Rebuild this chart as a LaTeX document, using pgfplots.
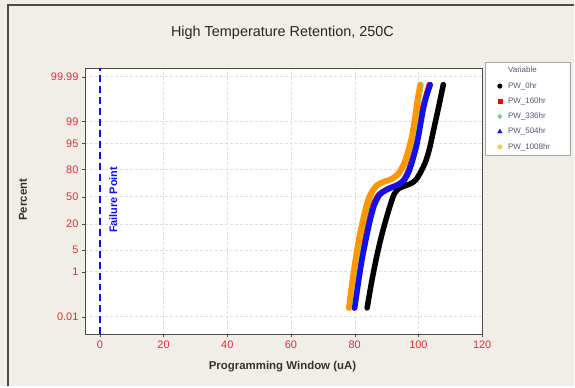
\documentclass[border=0pt]{standalone}
\usepackage{pgfplots}
\pgfplotsset{compat=1.18}
\usepackage{fontspec}
\setmainfont{Liberation Sans}
\definecolor{bgc}{RGB}{241,238,232}
\definecolor{tickred}{RGB}{225,45,55}
\definecolor{orng}{RGB}{255,150,0}
\definecolor{blu}{RGB}{15,15,240}
\definecolor{legtxt}{RGB}{85,85,115}
\definecolor{grn}{RGB}{130,200,130}
\definecolor{ylw}{RGB}{235,215,70}
\begin{document}
\begin{tikzpicture}[x=1bp,y=1bp]
\fill[bgc] (0,0) rectangle (575,387);
\draw[gray!60!black, line width=2bp] (8,0) -- (8,382) -- (575,382);
\node[font=\fontsize{14.5}{17}\selectfont, text=black!85] at (283,354) {High Temperature Retention, 250C};
\begin{axis}[
  at={(85bp,52bp)}, anchor=south west, scale only axis,
  width=398bp, height=267bp,
  xmin=-4.7, xmax=120, ymin=-4.27, ymax=3.99,
  xtick={0,20,40,60,80,100,120},
  ytick={-3.719,-2.326,-1.645,-0.8416,0,0.8416,1.645,2.326,3.719},
  yticklabels={0.01,1,5,20,50,80,95,99,99.99},
  tick align=outside, major tick length=3bp,
  xtick pos=bottom, ytick pos=left,
  axis line style={gray!60!black},
  tick style={gray!60!black},
  /pgf/number format/assume math mode=true,
  ticklabel style={font=\fontsize{11}{13}\selectfont, text=tickred},
  xmajorgrids, ymajorgrids,
  grid style={gray!25, dash pattern=on 3bp off 2bp},
  axis background/.style={fill=white},
  legend style={at={(1.0075,1.022)}, anchor=north west, draw=gray!70, fill=white,
    font=\fontsize{8}{9.5}\selectfont, text=legtxt, row sep=4bp, column sep=4bp,
    inner xsep=6bp, inner ysep=3bp},
  legend cell align=left,
]
\addlegendimage{empty legend}\addlegendentry{Variable}
\addlegendimage{only marks, mark=*, mark size=2.3bp, black}\addlegendentry{\makebox[54bp][l]{PW\_0hr}}
\addlegendimage{only marks, mark=square*, mark size=2.1bp, red}\addlegendentry{PW\_160hr}
\addlegendimage{only marks, mark=diamond*, mark size=2.5bp, grn}\addlegendentry{PW\_336hr}
\addlegendimage{only marks, mark=triangle*, mark size=2.6bp, blu}\addlegendentry{PW\_504hr}
\addlegendimage{only marks, mark=*, mark size=2.3bp, ylw}\addlegendentry{PW\_1008hr}

% failure point line
\addplot[forget plot, blu, line width=2.2bp, dash pattern=on 7bp off 4bp] coordinates {(0,-4.27) (0,3.99)};

% PW_0hr
\addplot[forget plot, black, line width=5.5bp, smooth, line cap=round] coordinates {
(83.9,-3.45) (85.2,-2.7) (86.7,-1.95) (88.2,-1.3) (89.8,-0.71) (91.2,-0.25) (92.4,0.08)
(93.8,0.25) (95.6,0.33) (97.5,0.40) (99.2,0.52) (100.8,0.78) (102.3,1.1) (103.5,1.5)
(104.4,1.9) (105.5,2.4) (106.6,2.9) (107.8,3.47)};
% PW_160hr
\addplot[forget plot, red, line width=5.5bp, smooth, line cap=round] coordinates {
(79.7,-3.45) (80.7,-2.7) (81.9,-1.95) (83.2,-1.3) (84.5,-0.71) (85.8,-0.25) (87.4,0.05)
(89.2,0.18) (91.2,0.28) (93.2,0.36) (95.2,0.5) (96.8,0.8) (98.1,1.2) (99.3,1.66)
(100.3,2.2) (101.2,2.7) (102.3,3.1) (103.4,3.47)};
% PW_336hr
\addplot[forget plot, grn, line width=5.5bp, smooth, line cap=round] coordinates {
(78.4,-3.45) (79.4,-2.7) (80.5,-1.95) (81.7,-1.25) (83.1,-0.61) (84.3,-0.15) (85.6,0.15)
(87.3,0.36) (89.3,0.46) (91.8,0.55) (93.8,0.70) (95.6,1.0) (97.0,1.4) (98.2,1.87)
(99.1,2.4) (99.8,2.9) (100.8,3.47)};
% PW_504hr
\addplot[forget plot, blu, line width=5.5bp, smooth, line cap=round] coordinates {
(80.0,-3.45) (81.1,-2.7) (82.3,-1.95) (83.6,-1.3) (84.9,-0.71) (86.2,-0.25) (87.8,0.05)
(89.5,0.18) (91.5,0.28) (93.5,0.36) (95.5,0.5) (97.1,0.8) (98.4,1.2) (99.6,1.66)
(100.6,2.2) (101.5,2.7) (102.5,3.1) (103.7,3.47)};
% PW_1008hr
\addplot[forget plot, orng, line width=5.5bp, smooth, line cap=round] coordinates {
(78.1,-3.45) (79.1,-2.7) (80.2,-1.95) (81.4,-1.25) (82.8,-0.61) (84.0,-0.15) (85.3,0.15)
(87.0,0.36) (89.0,0.46) (91.5,0.55) (93.5,0.70) (95.3,1.0) (96.7,1.4) (97.9,1.87)
(98.8,2.4) (99.5,2.9) (100.5,3.47)};

\node[rotate=90, font=\bfseries\fontsize{11}{13}\selectfont, text=blu] at (axis cs:4.2,-0.1) {Failure Point};
\end{axis}
\node[rotate=90, font=\bfseries\fontsize{11.5}{13}\selectfont, text=black!80] at (23,187) {Percent};
\node[font=\bfseries\fontsize{11.5}{13}\selectfont, text=black!80] at (283,20) {Programming Window (uA)};
\end{tikzpicture}
\end{document}
